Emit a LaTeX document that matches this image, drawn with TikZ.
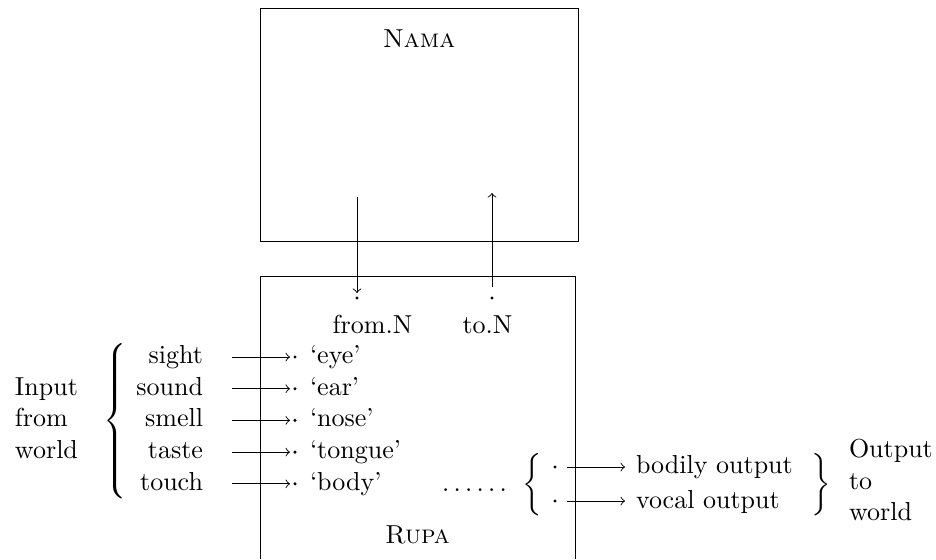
\documentclass[tikz,border=0pt]{standalone}
\begin{document}
\begin{tikzpicture}[x=0.3846pt,y=-0.3846pt,
  lbl/.style={inner sep=0pt,outer sep=0pt},
  arr/.style={->,line width=0.35pt},
  boxline/.style={line width=0.35pt},
  dotmark/.style={circle,fill=black,inner sep=0pt,minimum size=1.3pt}]
\useasboundingbox (0,0) rectangle (936,559);
% boxes
\draw[boxline] (260,8) rectangle (578,241);
\node[lbl,anchor=base] (nama) at (419,47) {\textsc{Nama}};
\draw[boxline] (260,559) -- (260,276) -- (575,276) -- (575,559);
\node[lbl,anchor=base] (rupa) at (417.5,543) {\textsc{Rupa}};
% vertical arrows
\coordinate (dtop) at (357,197);
\node[dotmark] (fromdot) at (357,298) {};
\coordinate (dtip) at (357,293);
\draw[arr] (dtop) -- (dtip);
\node[dotmark] (todot) at (492,298) {};
\coordinate (ubot) at (492,287);
\coordinate (utip) at (492,193);
\draw[arr] (ubot) -- (utip);
\node[lbl,anchor=base] (fromN) at (372.5,333) {from.N};
\node[lbl,anchor=base] (toN) at (487.5,333) {to.N};
% input side
\node[lbl,anchor=base west] (in1) at (15,395.2) {Input};
\node[lbl,anchor=base west] (in2) at (15,426.9) {from};
\node[lbl,anchor=base west] (in3) at (15,458.6) {world};
\node[lbl,anchor=west] (lbrace) at (103,421) {$\left\{\vcenter{\hrule height 62pt width 0pt}\right.$};
\foreach \i/\s/\o [count=\k from 0] in {a/sight/‘eye’,b/sound/‘ear’,c/smell/‘nose’,d/taste/‘tongue’,e/touch/‘body’}{
  \pgfmathsetmacro{\yb}{363.5+31.7*\k}
  \pgfmathsetmacro{\ya}{\yb-6.5}
  \node[lbl,anchor=base east] (s\i) at (203,\yb) {\s};
  \coordinate (as\i) at (232,\ya);
  \coordinate (ae\i) at (290,\ya);
  \draw[arr] (as\i) -- (ae\i);
  \node[dotmark] (d\i) at (295,\ya) {};
  \node[lbl,anchor=base west] (o\i) at (310,\yb) {\o};
}
% output side
\node[lbl,anchor=base west] (ldots) at (442,491) {$\ldots\ldots$};
\node[lbl,anchor=west] (obrace) at (522,484.5) {$\biggl\{$};
\node[dotmark] (bd) at (555,467) {};
\node[dotmark] (vd) at (555,501) {};
\coordinate (bs) at (567,467);
\coordinate (be) at (625,467);
\coordinate (vs) at (567,501);
\coordinate (ve) at (625,501);
\draw[arr] (bs) -- (be);
\draw[arr] (vs) -- (ve);
\node[lbl,anchor=base west] (bod) at (636,473.5) {bodily output};
\node[lbl,anchor=base west] (voc) at (636,508.5) {vocal output};
\node[lbl,anchor=west] (rbrace) at (811,484.5) {$\biggr\}$};
\node[lbl,anchor=base west] (out1) at (849,457.5) {Output};
\node[lbl,anchor=base west] (out2) at (849,489.2) {to};
\node[lbl,anchor=base west] (out3) at (849,520.9) {world};
\end{tikzpicture}
\end{document}
